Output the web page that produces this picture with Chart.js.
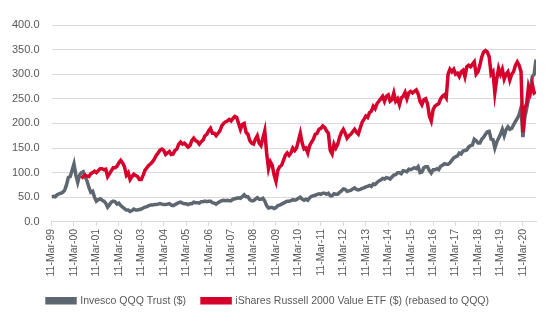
<!DOCTYPE html>
<html>
<head>
<meta charset="utf-8">
<script src="https://cdn.jsdelivr.net/npm/chart.js@4/dist/chart.umd.min.js"></script>
<style>
  body { margin: 0; background: #fff; }
</style>
</head>
<body>
<canvas id="chart" width="550" height="330"></canvas>
<script>
// monthly closes, index 0 = Mar-99, last = Oct-20
const tickLabels = [
  '11-Mar-99', '11-Mar-00', '11-Mar-01', '11-Mar-02', '11-Mar-03', '11-Mar-04',
  '11-Mar-05', '11-Mar-06', '11-Mar-07', '11-Mar-08', '11-Mar-09', '11-Mar-10',
  '11-Mar-11', '11-Mar-12', '11-Mar-13', '11-Mar-14', '11-Mar-15', '11-Mar-16',
  '11-Mar-17', '11-Mar-18', '11-Mar-19', '11-Mar-20'
]

const qqq = [
  50, 52, 51, 55, 57, 58, 60, 64, 75, 90,
  92, 105, 118, 95, 80, 95, 100, 102, 92, 83, 70, 60,
  62, 50, 42, 45, 47, 44, 42, 38, 30, 35, 40, 42,
  41, 36, 38, 33, 30, 27, 24, 24, 21, 23, 26, 24,
  24, 25, 26, 28, 30, 31, 33, 34, 34, 35, 35, 36,
  37, 36, 35, 35, 36, 37, 34, 33, 35, 37, 39, 40,
  38, 37, 37, 35, 37, 37, 40, 39, 39, 38, 41, 41,
  42, 41, 42, 42, 39, 38, 36, 39, 41, 43, 44, 43,
  44, 43, 43, 46, 47, 48, 49, 48, 51, 55, 51, 51,
  45, 43, 43, 46, 49, 46, 46, 48, 42, 33, 28, 29,
  29, 27, 29, 33, 34, 36, 38, 40, 42, 42, 43, 45,
  44, 45, 48, 50, 46, 44, 46, 44, 49, 52, 53, 54,
  56, 57, 56, 58, 58, 56, 58, 53, 53, 57, 56, 56,
  60, 63, 67, 66, 62, 63, 64, 67, 69, 66, 65, 66,
  68, 69, 71, 72, 74, 72, 77, 76, 80, 83, 85, 88,
  87, 90, 89, 87, 91, 95, 96, 100, 100, 98, 104, 103,
  102, 107, 106, 108, 110, 108, 112, 100, 101, 110, 112, 112,
  104, 99, 106, 106, 108, 106, 113, 115, 118, 117, 117, 120,
  125, 130, 132, 134, 140, 138, 144, 145, 146, 152, 155, 156,
  168, 165, 160, 160, 168, 172, 178, 183, 184, 168, 167, 150,
  162, 170, 178, 188, 175, 187, 193, 188, 190, 197, 204, 210,
  218, 232, 172, 212, 230, 250, 268, 295, 300, 330
]

// starts Jul-00 (index 16)
const iwn = [
  null, null, null, null, null, null, null, null, null, null,
  null, null, null, null, null, null, 88, 92, 95, 93, 92, 98,
  100, 103, 100, 104, 108, 108, 106, 107, 92, 98, 104, 110,
  110, 113, 120, 125, 120, 112, 95, 100, 86, 92, 97, 94,
  92, 86, 86, 95, 105, 110, 115, 118, 122, 128, 135, 140,
  146, 148, 145, 137, 140, 143, 137, 138, 145, 148, 158, 162,
  158, 160, 156, 152, 155, 165, 170, 165, 163, 158, 163, 166,
  175, 178, 185, 190, 180, 180, 175, 180, 185, 195, 200, 203,
  205, 208, 205, 210, 214, 212, 200, 188, 198, 200, 182, 178,
  165, 160, 158, 168, 175, 160, 155, 170, 185, 140, 108, 122,
  115, 95, 82, 105, 112, 115, 125, 135, 140, 135, 140, 150,
  145, 150, 165, 180, 160, 148, 150, 140, 155, 162, 168, 178,
  180, 188, 190, 195, 192, 185, 180, 145, 138, 158, 150, 158,
  172, 182, 188, 180, 170, 175, 178, 183, 188, 182, 178, 190,
  202, 208, 215, 212, 222, 225, 235, 230, 240, 245, 250, 255,
  245, 255, 258, 245, 248, 262, 245, 250, 238, 252, 255, 263,
  250, 262, 265, 262, 265, 268, 260, 245, 238, 248, 250, 240,
  215, 205, 228, 235, 238, 240, 250, 255, 258, 252, 300, 310,
  305, 310, 300, 302, 295, 305, 308, 295, 315, 318, 315, 320,
  325, 300, 305, 318, 335, 345, 348, 345, 335, 300, 305, 262,
  290, 312, 300, 310, 290, 300, 305, 288, 300, 305, 318, 325,
  318, 305, 182, 230, 240, 275, 262, 280, 262, 265
]

const seriesNames = [
  'Invesco QQQ Trust ($)',
  'iShares Russell 2000 Value ETF ($) (rebased to QQQ)'
]

const grey = '#5e6770'
const red = '#d5002b'
const textColor = '#595959'
const fontFamily = "'Liberation Sans', Arial, sans-serif"

function points(values) {
  return values.map((v, i) => ({ x: i, y: v }))
}

const chartConfig = {
  type: 'line',
  data: {
    datasets: [
      {
        label: seriesNames[0],
        data: points(qqq),
        borderColor: grey,
        backgroundColor: grey,
        borderWidth: 3.5,
        pointRadius: 0,
        tension: 0,
        order: 2,
      },
      {
        label: seriesNames[1],
        data: points(iwn),
        borderColor: red,
        backgroundColor: red,
        borderWidth: 3.5,
        pointRadius: 0,
        tension: 0,
        order: 1,
      }
    ]
  },
  options: {
    responsive: false,
    animation: false,
    layout: { padding: { left: 0, right: 14, top: 25, bottom: 14 } },
    plugins: {
      tooltip: { enabled: false },
      legend: {
        position: 'bottom',
        labels: {
          boxWidth: 28,
          boxHeight: 4,
          color: textColor,
          font: { family: fontFamily, size: 10.5 },
          padding: 16,
          sort: (a, b) => a.datasetIndex - b.datasetIndex,
        }
      }
    },
    scales: {
      x: {
        type: 'linear',
        min: 0,
        max: qqq.length - 1,
        grid: {
          drawOnChartArea: false,
          drawTicks: true,
          tickLength: 4,
          color: '#d9d9d9',
        },
        border: { color: '#d9d9d9' },
        ticks: {
          stepSize: 12,
          includeBounds: false,
          autoSkip: false,
          minRotation: 90,
          maxRotation: 90,
          padding: 3,
          color: textColor,
          font: { family: fontFamily, size: 10.5 },
          callback: (v) => tickLabels[v / 12],
        }
      },
      y: {
        min: 0,
        max: 400,
        grid: { color: '#d9d9d9', drawTicks: false },
        border: { display: false },
        ticks: {
          stepSize: 50,
          padding: 12,
          color: textColor,
          font: { family: fontFamily, size: 11 },
          callback: (v) => v.toFixed(1),
        }
      }
    }
  }
}

new Chart(document.getElementById('chart').getContext('2d'), chartConfig)
</script>
</body>
</html>
